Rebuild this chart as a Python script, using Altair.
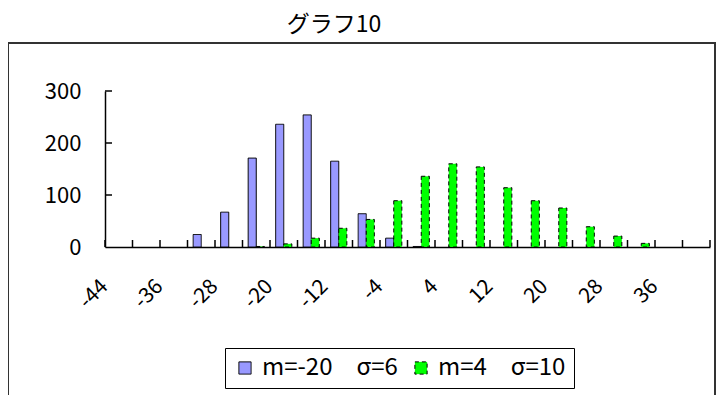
import altair as alt
import pandas as pd

# ---- data ----
categories = [-44, -40, -36, -32, -28, -24, -20, -16, -12, -8, -4,
              0, 4, 8, 12, 16, 20, 24, 28, 32, 36, 40]
series_names = ["m=-20　σ=6", "m=4　σ=10"]
blue_values = [0, 0, 0, 24, 67, 171, 236, 254, 165, 64, 17,
               1, 0, 0, 0, 0, 0, 0, 0, 0, 0, 0]
green_values = [0, 0, 0, 0, 0, 1, 6, 17, 36, 53, 89,
                136, 160, 154, 114, 89, 75, 39, 21, 7, 0, 0]
x_tick_labels = [-44, -36, -28, -20, -12, -4, 4, 12, 20, 28, 36]
y_tick_values = [0, 100, 200, 300]
title_text = "グラフ10"

FONT = "Noto Sans CJK JP"
W, H = 605, 156
TICK = 7

rows = []
for c, b, g in zip(categories, blue_values, green_values):
    rows.append({"cat": c, "series": series_names[0], "value": b})
    rows.append({"cat": c, "series": series_names[1], "value": g})
df = pd.DataFrame(rows)

x_scale = alt.Scale(domain=categories, paddingInner=0, paddingOuter=0)
y_scale = alt.Scale(domain=[0, 300], nice=False)

legend_common = dict(title=None, orient="none", legendX=120, legendY=257,
                     direction="horizontal")

bars = alt.Chart(df).transform_filter("datum.value > 0").mark_bar(
    stroke="black", strokeWidth=1
).encode(
    x=alt.X("cat:O", scale=x_scale, sort=categories,
            axis=alt.Axis(values=x_tick_labels, title=None, ticks=False, tickSize=0,
                          labelOffset=-14, labelAngle=-45, labelAlign="right",
                          labelBaseline="middle", labelPadding=36,
                          labelFont=FONT, labelFontSize=21, labelColor="black",
                          domainColor="black", domainWidth=1.5)),
    xOffset=alt.XOffset("series:N", sort=series_names,
                        scale=alt.Scale(domain=series_names, paddingInner=0, paddingOuter=0.7)),
    y=alt.Y("value:Q", scale=y_scale,
            axis=alt.Axis(values=y_tick_values, title=None, grid=False, ticks=False,
                          tickSize=0, labelPadding=24, labelFont=FONT, labelFontSize=22,
                          labelColor="black", domainColor="black", domainWidth=1.5)),
    color=alt.Color("series:N", sort=series_names,
                    scale=alt.Scale(domain=series_names, range=["#9999FF", "#00FF00"]),
                    legend=alt.Legend(**legend_common, strokeColor="black",
                                      fillColor="white", padding=8,
                                      symbolType="square", symbolSize=150,
                                      symbolStrokeColor="black", symbolStrokeWidth=1,
                                      labelFont=FONT, labelFontSize=24, labelColor="black",
                                      columnPadding=11, labelOffset=5)),
    strokeDash=alt.StrokeDash("series:N", sort=series_names,
                              scale=alt.Scale(domain=series_names, range=[[1, 0], [4, 3]]),
                              legend=alt.Legend(**legend_common)),
)

tick_df = pd.DataFrame({"cat": categories})
x_ticks = alt.Chart(tick_df).mark_rule(color="black", strokeWidth=1.5).encode(
    x=alt.X("cat:O", scale=x_scale, sort=categories, bandPosition=0),
    y=alt.value(H - TICK),
    y2=alt.value(H),
)
end_tick = alt.Chart(pd.DataFrame({"a": [0]})).mark_rule(color="black", strokeWidth=1.5).encode(
    x=alt.value(W), y=alt.value(H - TICK), y2=alt.value(H),
)
ytick_df = pd.DataFrame({"v": y_tick_values[1:]})
y_ticks = alt.Chart(ytick_df).mark_rule(color="black", strokeWidth=1.5).encode(
    x=alt.value(0), x2=alt.value(TICK), y=alt.Y("v:Q", scale=y_scale),
)
frame = alt.Chart(pd.DataFrame({"a": [0]})).mark_rect(
    fill="transparent", stroke="#333333", strokeWidth=2
).encode(
    x=alt.value(-97), x2=alt.value(610), y=alt.value(-48), y2=alt.value(330),
)
title_mark = alt.Chart(pd.DataFrame({"t": [title_text]})).mark_text(
    font=FONT, fontSize=23, color="black", align="center", baseline="middle"
).encode(
    text="t:N", x=alt.value(229), y=alt.value(-66),
)

chart = alt.layer(frame, bars, x_ticks, end_tick, y_ticks, title_mark).properties(
    width=W, height=H,
    autosize=alt.AutoSizeParams(type="none"),
    padding={"left": 97, "top": 83, "right": 6, "bottom": 148},
).configure_view(stroke=None)

chart.save("out.html", embed_options={"renderer": "svg", "actions": False})
